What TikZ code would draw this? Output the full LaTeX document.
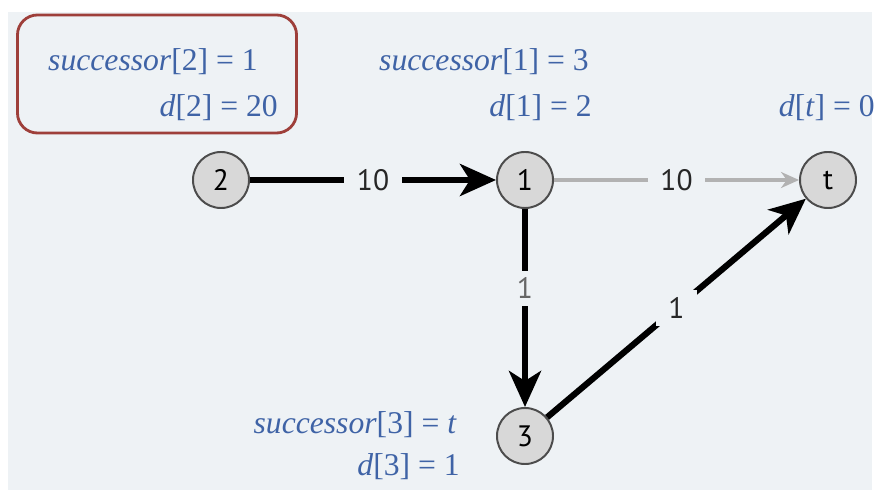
\documentclass[tikz,border=0pt]{standalone}
\usepackage{fontspec}
\setmainfont{Liberation Serif}
\setsansfont{PT Sans}
\usetikzlibrary{arrows.meta,positioning}
\usepackage{xcolor}
\definecolor{bgblue}{HTML}{EEF2F5}
\definecolor{lblblue}{HTML}{3F63A6}
\definecolor{boxred}{HTML}{9E3F3A}
\definecolor{vfill}{HTML}{D8D8D8}

\begin{document}
\begin{tikzpicture}[x=0.025cm, y=-0.025cm,
    vert/.style={draw=gray!60!black, circle, fill=vfill, line width=1.4pt, minimum size=1.4cm, inner sep=0pt, font=\sffamily\fontsize{21}{24}\selectfont},
    treeedge/.style={line width=4.4pt, -{Stealth[length=0.9cm, width=0.8cm, inset=0.25cm]}},
    otheredge/.style={draw=gray!60, line width=2.4pt, -{Stealth[length=0.45cm, width=0.4cm]}},
    wt/.style={fill=bgblue, inner xsep=9pt, inner ysep=5pt, font=\sffamily\fontsize{21}{24}\selectfont, text=black!85},
    info/.style={anchor=east, text=lblblue, font=\fontsize{22.5}{26}\selectfont, inner sep=0pt},
    markbox/.style={draw=boxred, line width=2pt, rounded corners=0.5cm, minimum width=6.975cm, minimum height=2.95cm}
]
    \useasboundingbox (0,0) rectangle (880,490);
    \fill[white] (0,0) rectangle (880,490);
    \fill[bgblue] (8,12) rectangle (872,490);

    % vertices
    \node[vert] (v2) at (221,180) {2};
    \node[vert] (v1) at (525,180) {1};
    \node[vert] (vt) at (828,180) {t};
    \node[vert] (v3) at (525,436) {3};

    % labels
    \node[markbox] (box2) at (157,74) {};
    \node[info] (succ2) at (258,62) {\textit{successor}[2] = 1};
    \node[info] (dist2) at (278,108) {\textit{d}[2] = 20};
    \node[info] (succ1) at (589,62) {\textit{successor}[1] = 3};
    \node[info] (dist1) at (592,108) {\textit{d}[1] = 2};
    \node[info] (distt) at (875,108) {\textit{d}[\textit{t}] = 0};
    \node[info] (succ3) at (457,425) {\textit{successor}[3] = \textit{t}};
    \node[info] (dist3) at (460,467) {\textit{d}[3] = 1};

    % edges
    \draw[treeedge] (v2) -- node[wt] {10} (v1);
    \draw[otheredge] (v1) -- node[wt] {10} (vt);
    \draw[treeedge] (v1) -- node[wt, pos=0.4, text=black!60] {1} (v3);
    \draw[treeedge] (v3) -- node[wt] {1} (vt);
\end{tikzpicture}
\end{document}
